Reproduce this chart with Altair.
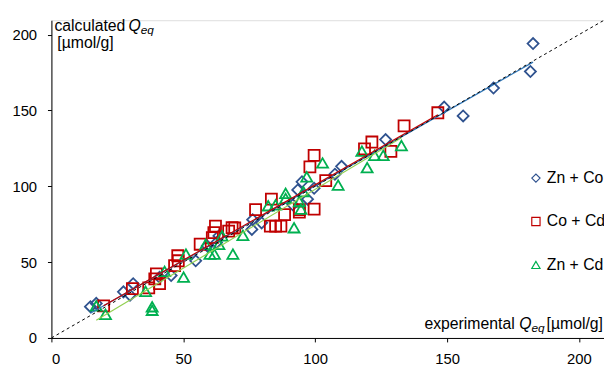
import altair as alt
import pandas as pd

series = ["Zn + Co", "Co + Cd", "Zn + Cd"]
marker_colors = ["#2F528F", "#C00000", "#00B050"]
line_colors = ["#2E75B6", "#C00000", "#92D050"]
shapes = ["diamond", "square", "triangle-up"]

# Zn + Co (diamonds)
zc_x = [14.8, 17.0, 27.3, 29.8, 31.0, 41.0, 45.4, 54.7, 59.1, 62.6, 63.5, 76.0, 76.3, 79.7,
        91.5, 93.4, 95.0, 97.1, 99.6, 107.5, 110.0, 126.7, 148.9, 156.1, 167.6, 181.6, 182.6]
zc_y = [20.6, 22.8, 30.4, 28.2, 35.8, 40.0, 41.2, 50.9, 60.7, 62.9, 67.3, 71.6, 78.0, 75.9,
        87.8, 97.6, 103.0, 91.5, 98.7, 108.0, 113.2, 130.8, 152.2, 146.4, 164.8, 175.7, 194.1]

# Co + Cd (squares)
cc_x = [19.8, 30.7, 36.9, 39.2, 39.8, 41.0, 46.7, 48.1, 47.9, 56.4, 61.0, 61.6, 62.2, 67.2,
        68.5, 69.5, 77.4, 83.4, 83.0, 85.0, 87.0, 88.4, 94.0, 94.0, 99.6, 98.0, 99.6, 104.0,
        118.7, 121.5, 128.7, 133.7, 146.5]
cc_y = [21.2, 32.5, 33.0, 39.0, 42.3, 35.8, 47.7, 50.9, 54.2, 61.8, 66.2, 69.4, 73.7, 70.5,
        72.7, 72.5, 84.6, 91.5, 73.7, 73.7, 73.7, 81.3, 84.6, 83.0, 85.0, 112.8, 120.4, 103.7,
        124.7, 129.2, 123.0, 139.9, 148.5]

# Zn + Cd (triangles)
zd_x = [17.0, 20.5, 35.7, 38.2, 38.2, 42.9, 50.1, 51.0, 58.5, 60.1, 61.8, 63.5, 64.7, 68.8,
        72.6, 82.2, 85.0, 88.8, 88.8, 92.0, 94.0, 94.6, 95.5, 96.8, 102.8, 108.7, 117.7, 119.7,
        122.5, 125.8, 132.7]
zd_y = [21.2, 15.6, 30.8, 20.6, 18.3, 43.9, 40.1, 55.3, 61.8, 55.3, 55.3, 61.8, 67.3, 55.3,
        67.7, 87.2, 87.8, 95.4, 92.0, 72.7, 90.0, 85.0, 96.5, 106.3, 115.4, 100.8, 123.2, 112.3,
        120.4, 120.4, 126.9]

diag_vals = [0, 209.5]
axis_ticks = [0, 50, 100, 150, 200]

rows = []
for name, xs, ys in zip(series, [zc_x, cc_x, zd_x], [zc_y, cc_y, zd_y]):
    for a, b in zip(xs, ys):
        rows.append({"series": name, "exp": a, "calc": b})
df = pd.DataFrame(rows)
diag = pd.DataFrame({"exp": diag_vals, "calc": diag_vals})

FONT = "Liberation Sans"
xscale = alt.Scale(domain=[0, 209.5], nice=False, zero=False)
yscale = alt.Scale(domain=[0, 209.5], nice=False, zero=False)

xaxis = alt.Axis(values=axis_ticks, title=None, grid=False, tickSize=4, labelPadding=10,
                 labelFontSize=15, labelFont=FONT, labelColor="black",
                 domainColor="black", tickColor="black")
yaxis = alt.Axis(values=axis_ticks, title=None, grid=False, tickSize=4, labelPadding=11,
                 labelFontSize=15, labelFont=FONT, labelColor="black",
                 domainColor="black", tickColor="black")

legend = alt.Legend(title=None, orient="none", legendX=483, legendY=152, padding=0,
                    rowPadding=28, labelFontSize=16, labelFont=FONT, labelColor="black",
                    symbolSize=70, symbolStrokeWidth=1.2, labelOffset=3)

points = alt.Chart(df).mark_point(filled=False, size=125, strokeWidth=1.8, opacity=1).encode(
    x=alt.X("exp:Q", scale=xscale, axis=xaxis),
    y=alt.Y("calc:Q", scale=yscale, axis=yaxis),
    color=alt.Color("series:N", scale=alt.Scale(domain=series, range=marker_colors),
                    sort=series, legend=legend),
    shape=alt.Shape("series:N", scale=alt.Scale(domain=series, range=shapes),
                    sort=series, legend=legend),
)

layers = [points]
for s, c in zip(series, line_colors):
    layers.append(
        alt.Chart(df).transform_filter(alt.datum.series == s)
        .transform_regression("exp", "calc")
        .mark_line(color=c, strokeWidth=1.2)
        .encode(x=alt.X("exp:Q", scale=xscale), y=alt.Y("calc:Q", scale=yscale))
    )

diag_line = alt.Chart(diag).mark_line(color="black", strokeDash=[3, 3], strokeWidth=1, clip=True).encode(
    x=alt.X("exp:Q", scale=xscale), y=alt.Y("calc:Q", scale=yscale))
layers.append(diag_line)


def label(txt, x, y, size=16, italic=False, align="left"):
    return alt.Chart(pd.DataFrame({"t": [txt]})).mark_text(
        align=align, baseline="alphabetic", font=FONT, fontSize=size,
        fontStyle="italic" if italic else "normal", color="black"
    ).encode(text="t:N", x=alt.value(x), y=alt.value(y))


# y-axis title (top-left, inside plot)
layers += [
    label("calculated", 3, 10.5),
    label("Q", 78, 10.5, italic=True),
    label("eq", 90.5, 14, size=12, italic=True),
    label("[µmol/g]", 6, 28.5),
]
# x-axis title (bottom-right, above axis)
layers += [
    label("experimental", 378, 312.5),
    label("Q", 474, 312.5, italic=True),
    label("eq", 486.5, 316, size=12, italic=True),
    label("[µmol/g]", 559, 312.5, align="right"),
]

chart = alt.layer(*layers).properties(
    width=560, height=322,
    autosize=alt.AutoSizeParams(type="none"),
    padding={"left": 44, "top": 10, "right": 0, "bottom": 26},
).configure_view(stroke=None).configure(background="white")

chart.save("out.html", embed_options={"renderer": "svg", "actions": False})
